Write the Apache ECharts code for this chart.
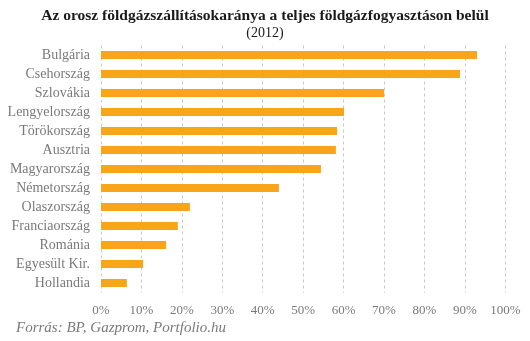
<!DOCTYPE html>
<html>
<head>
<meta charset="utf-8">
<script src="https://cdn.jsdelivr.net/npm/echarts@6/dist/echarts.min.js"></script>
<style>
  html, body { margin: 0; padding: 0; background: #fff; }
  #chart { width: 530px; height: 341px; }
</style>
</head>
<body>
<div id="chart"></div>
<script>
// Countries, top to bottom
const countries = ['Bulgária', 'Csehország', 'Szlovákia', 'Lengyelország', 'Törökország', 'Ausztria',
  'Magyarország', 'Németország', 'Olaszország', 'Franciaország', 'Románia', 'Egyesült Kir.', 'Hollandia'];
// Share of Russian gas in total gas consumption, %
const shares = [93.0, 88.8, 70.0, 60.1, 58.4, 58.1, 54.4, 44.0, 22.0, 19.0, 16.1, 10.4, 6.4];

const titleText = 'Az orosz földgázszállításokaránya a teljes földgázfogyasztáson belül';
const subtitleText = '(2012)';
const sourceText = 'Forrás: BP, Gazprom, Portfolio.hu';

const serif = '"Liberation Serif", "DejaVu Serif", serif';
const chart = echarts.init(document.getElementById('chart'));
chart.setOption({
  backgroundColor: '#ffffff',
  animation: false,
  title: [
    { text: titleText, left: 'center', top: 3,
      textStyle: { fontFamily: serif, fontSize: 15.5, fontWeight: 'bold', color: '#1a1a1a' } },
    { text: subtitleText, left: 'center', top: 21,
      textStyle: { fontFamily: serif, fontSize: 14, fontWeight: 'normal', color: '#1a1a1a' } },
    { text: sourceText, left: 11, top: 315.5,
      textStyle: { fontFamily: serif, fontSize: 15, fontStyle: 'italic', fontWeight: 'normal', color: '#7a7a7a' } }
  ],
  grid: { left: 101, right: 24.7, top: 45.5, bottom: 48.5, containLabel: false },
  xAxis: {
    type: 'value', min: 0, max: 100, interval: 10,
    axisLine: { show: false }, axisTick: { show: false },
    splitLine: { show: true, lineStyle: { color: '#c8c8c8', type: [3, 3], width: 1 } },
    axisLabel: { formatter: '{value}%', margin: 12, fontFamily: serif, fontSize: 13, color: '#7a7a7a' }
  },
  yAxis: {
    type: 'category', data: countries, inverse: true,
    axisLine: { show: false }, axisTick: { show: false },
    axisLabel: { margin: 11, fontFamily: serif, fontSize: 14, color: '#7a7a7a' }
  },
  series: [{
    type: 'bar', data: shares, barWidth: 8,
    itemStyle: { color: '#F9A51A' }
  }]
});
</script>
</body>
</html>
